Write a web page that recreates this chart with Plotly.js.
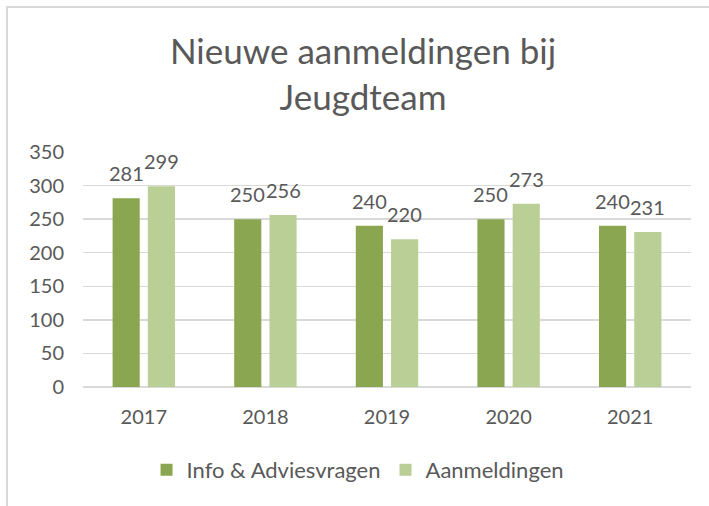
<!DOCTYPE html>
<html>
<head>
<meta charset="utf-8">
<script src="https://cdn.plot.ly/plotly-3.0.1.min.js"></script>
<style>
  html, body { margin: 0; padding: 0; background: #fff; overflow: hidden; }
  #chart { position: absolute; left: 0; top: 0; width: 709px; height: 506px; }
  #frame { position: absolute; left: 6px; top: 6px; width: 740px; height: 540px;
           border: 2px solid #D9D9D9; pointer-events: none; box-sizing: border-box; }
</style>
</head>
<body>
<div id="chart"></div>
<div id="frame"></div>
<script>
const years = ["2017", "2018", "2019", "2020", "2021"];
const infoAdvies = [281, 250, 240, 250, 240];
const aanmeldingen = [299, 256, 220, 273, 231];
const seriesNames = ["Info & Adviesvragen", "Aanmeldingen"];
const colors = ["#8BA650", "#B9CF96"];
const yTicks = [0, 50, 100, 150, 200, 250, 300, 350];

const FONT = "Lato, 'Open Sans', sans-serif";
const TXT = "#595959";

const traces = [
  { type: "bar", name: seriesNames[0], x: years, y: infoAdvies,
    marker: { color: colors[0] }, hoverinfo: "none" },
  { type: "bar", name: seriesNames[1], x: years, y: aanmeldingen,
    marker: { color: colors[1] }, hoverinfo: "none" }
];

const bargap = 0.42;
const slot = (1 - bargap) / 2;
const annotations = [];
[infoAdvies, aanmeldingen].forEach((vals, s) => {
  const off = (s - 0.5) * slot;
  vals.forEach((v, i) => {
    annotations.push({
      xref: "x", yref: "y", x: i + off, y: v,
      text: String(v), showarrow: false,
      yanchor: "middle", yshift: 25,
      font: { family: FONT, size: 20, color: TXT }
    });
  });
});

const layout = {
  width: 709, height: 506,
  margin: { l: 83, r: 18, t: 152, b: 119, pad: 0 },
  paper_bgcolor: "#fff", plot_bgcolor: "#fff",
  font: { family: FONT, color: TXT, size: 20 },
  title: {
    text: "Nieuwe aanmeldingen bij<br>Jeugdteam",
    font: { family: FONT, size: 35, color: TXT },
    xref: "container", yref: "container",
    x: 0.512, xanchor: "center",
    y: 1 - 64 / 506, yanchor: "top"
  },
  barmode: "group", bargap: bargap, bargroupgap: 0.23,
  xaxis: {
    type: "category",
    showgrid: false, zeroline: false, showline: false,
    ticks: "", ticklabelstandoff: 16,
    tickfont: { family: FONT, size: 20, color: TXT }
  },
  yaxis: {
    range: [0, 350], tickvals: yTicks, ticktext: yTicks.map(String),
    showgrid: true, gridcolor: "#D9D9D9", gridwidth: 1.5,
    zeroline: true, zerolinecolor: "#D9D9D9", zerolinewidth: 1.5,
    showline: false, ticks: "", ticklabelstandoff: 18,
    tickfont: { family: FONT, size: 20, color: TXT }
  },
  showlegend: true,
  legend: {
    orientation: "h", xref: "container", yref: "container",
    x: 0.505, xanchor: "center", y: 1 - 470 / 506, yanchor: "middle",
    font: { family: FONT, size: 22, color: TXT },
    itemwidth: 30, traceorder: "normal"
  },
  annotations: annotations
};

Plotly.newPlot("chart", traces, layout, { displayModeBar: false, staticPlot: true });
</script>
</body>
</html>
